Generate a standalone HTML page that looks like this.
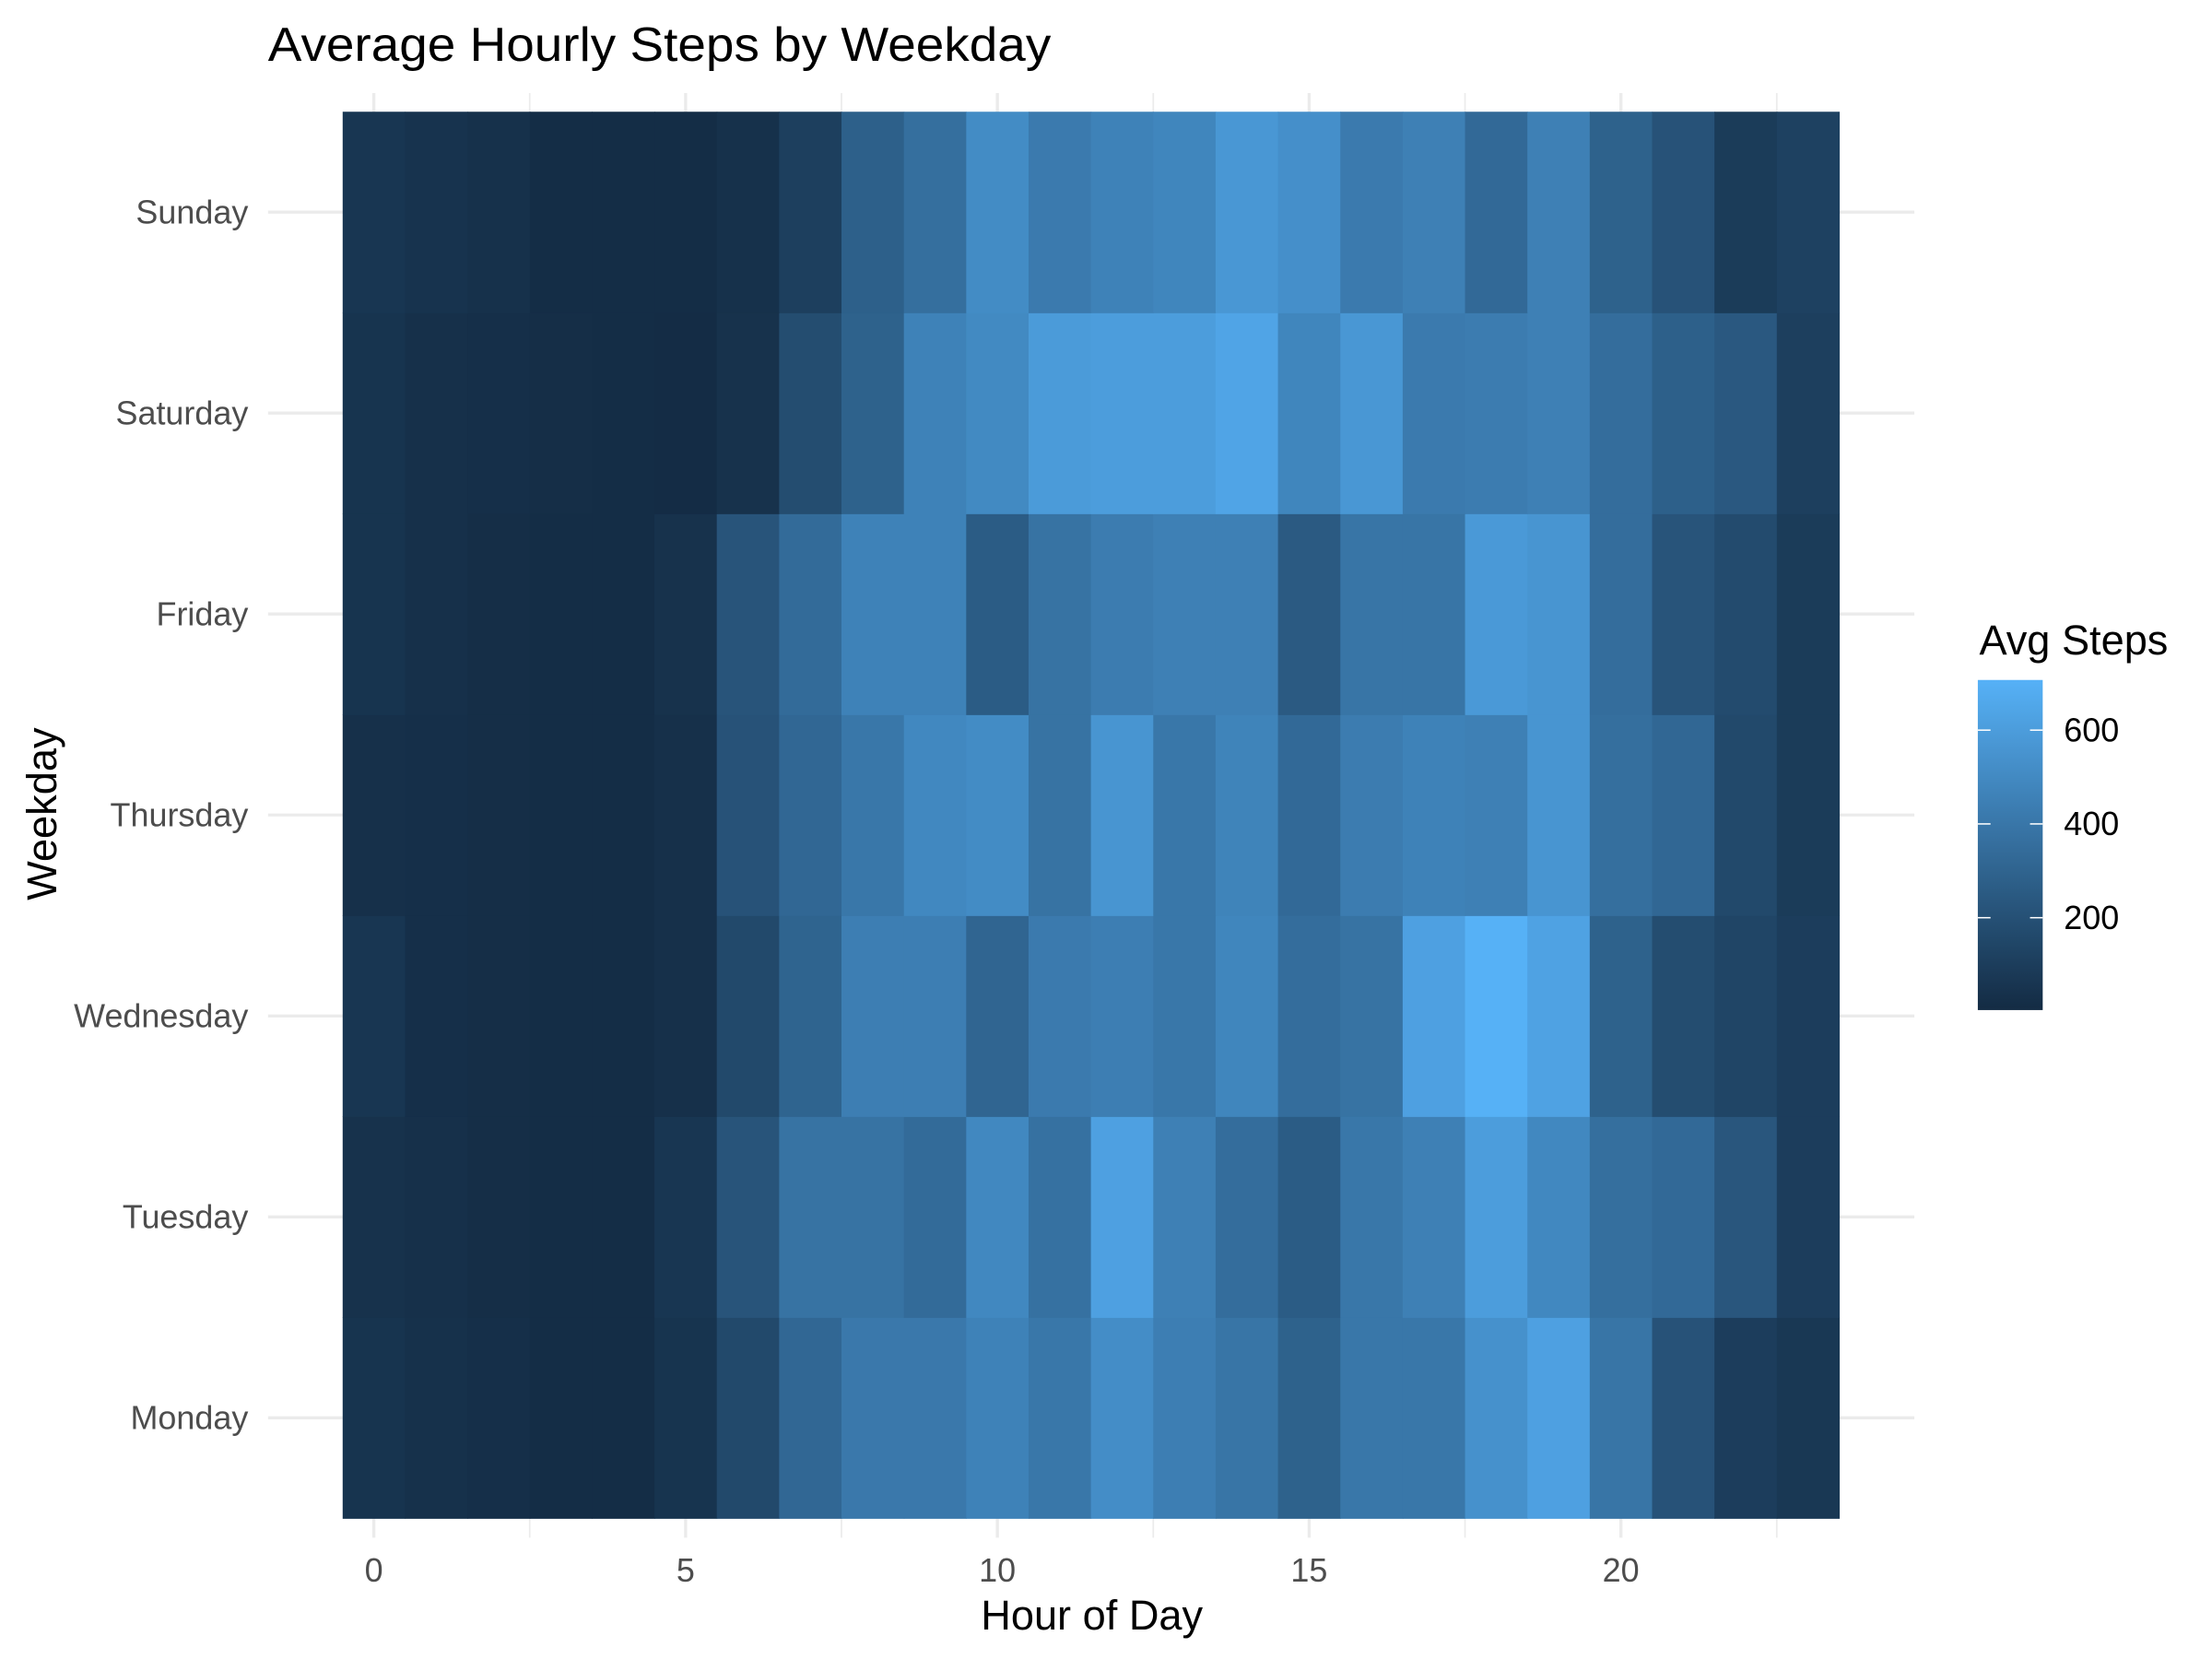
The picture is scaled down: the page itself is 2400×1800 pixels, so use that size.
<!DOCTYPE html>
<html><head><meta charset="utf-8">
<style>
html,body{margin:0;padding:0;background:#fff;}
svg{display:block;font-family:"Liberation Sans",sans-serif;}
</style></head>
<body>
<svg id="chart" width="2400" height="1800" viewBox="0 0 1568 1176" xmlns="http://www.w3.org/2000/svg">
<rect width="1568" height="1176" fill="#fff"/>
<text x="190" y="43" font-size="34" fill="#000" textLength="555" lengthAdjust="spacingAndGlyphs">Average Hourly Steps by Weekday</text>
<g id="grid"></g>
<g id="cells"></g>
<g id="axes"></g>
<g id="legend"></g>
</svg>
<script>
const hours = [0,1,2,3,4,5,6,7,8,9,10,11,12,13,14,15,16,17,18,19,20,21,22,23];
const days = ["Monday","Tuesday","Wednesday","Thursday","Friday","Saturday","Sunday"];
const sunday    = [60,45,35,15,15,15,35,110,280,360,510,420,460,480,570,530,420,450,330,450,290,210,90,120];
const saturday  = [50,30,25,20,15,10,40,180,290,460,500,590,600,600,640,480,570,420,430,450,350,280,240,110];
const friday    = [50,30,20,15,15,40,220,340,460,460,260,380,430,450,450,250,390,390,580,560,350,220,170,90];
const thursday  = [30,25,20,15,15,30,210,320,400,490,510,380,560,400,470,330,430,460,450,560,360,320,160,90];
const wednesday = [60,25,20,15,15,30,160,300,440,440,310,420,440,400,480,350,380,620,705,630,290,180,140,100];
const tuesday   = [40,30,20,15,15,60,220,380,380,340,490,370,620,450,350,260,400,450,600,490,360,330,230,100];
const monday    = [50,35,25,15,15,50,160,320,410,410,460,400,520,440,390,290,400,400,540,620,390,210,100,70];
const series = [monday,tuesday,wednesday,thursday,friday,saturday,sunday];
const xTicks = [0,5,10,15,20];
const legendTicks = [200,400,600];
const vMin = 3, vMax = 707;

const NS="http://www.w3.org/2000/svg";
function mk(tag, attrs, parent){const e=document.createElementNS(NS,tag);for(const k in attrs)e.setAttribute(k,attrs[k]);parent.appendChild(e);return e;}
const x = h => 265 + h*44.2;
const rowH = 142.43;
const y = i => 1005 - i*rowH;
function lerp(a,b,t){return Math.round(a+(b-a)*t);}
function color(v){
  let t=(v-vMin)/(vMax-vMin); t=Math.max(0,Math.min(1,t));
  const lo=[19,43,67], hi=[86,177,247];
  return `rgb(${lerp(lo[0],hi[0],t)},${lerp(lo[1],hi[1],t)},${lerp(lo[2],hi[2],t)})`;
}
const grid=document.getElementById('grid');
days.forEach((d,i)=>{
  const l=mk('line',{x1:190,x2:1357,y1:y(i),y2:y(i),stroke:'#ebebeb','stroke-width':2.2},grid);
  
  
});
for(let h=0;h<=22.5;h+=2.5){
  const major = h%5===0;
  const l=mk('line',{x1:x(h),x2:x(h),y1:66,y2:1090,stroke:'#ebebeb','stroke-width':major?2.2:1.1},grid);
  
  
}
const cells=document.getElementById('cells');
series.forEach((row,i)=>{
  row.forEach((v,h)=>{
    const r=mk('rect',{x:x(hours[h])-22.1,y:y(i)-rowH/2,width:44.6,height:rowH+0.4,fill:color(v)},cells);
    
    
  });
});
const axes=document.getElementById('axes');
days.forEach((d,i)=>{
  const t=mk('text',{x:176,y:y(i)+8,'text-anchor':'end','font-size':23.5,fill:'#4d4d4d'},axes);
  t.textContent=d;
  
  
});
xTicks.forEach(h=>{
  const t=mk('text',{x:x(h),y:1121,'text-anchor':'middle','font-size':23.5,fill:'#4d4d4d'},axes);
  t.textContent=h;
  
  
});
const xt=mk('text',{x:774,y:1155,'text-anchor':'middle','font-size':29.5,fill:'#000'},axes);
xt.textContent='Hour of Day';


const yt=mk('text',{x:0,y:0,'text-anchor':'middle','font-size':29.5,fill:'#000',transform:'translate(40,577) rotate(-90)'},axes);
yt.textContent='Weekday';



const lg=document.getElementById('legend');


const lt=mk('text',{x:1403,y:464,'font-size':29.5,fill:'#000'},lg);
lt.textContent='Avg Steps';


const defs=mk('defs',{},lg);
const grad=mk('linearGradient',{id:'lgrad',x1:0,y1:1,x2:0,y2:0},defs);
for(let k=0;k<=10;k++){mk('stop',{offset:k/10,'stop-color':color(vMin+(vMax-vMin)*k/10)},grad);}
const ly0=716, ly1=482;
const ly = v => ly0 - (v-vMin)/(vMax-vMin)*(ly0-ly1);
const bar=mk('rect',{x:1402,y:ly1,width:46,height:ly0-ly1,fill:'url(#lgrad)'},lg);


legendTicks.forEach(v=>{
  mk('line',{x1:1402,x2:1411,y1:ly(v),y2:ly(v),stroke:'#fff','stroke-width':1},lg);
  mk('line',{x1:1439,x2:1448,y1:ly(v),y2:ly(v),stroke:'#fff','stroke-width':1},lg);
  const t=mk('text',{x:1463,y:ly(v)+8,'font-size':23.5,fill:'#000'},lg);
  t.textContent=v;
  
  
});
</script>
</body></html>
